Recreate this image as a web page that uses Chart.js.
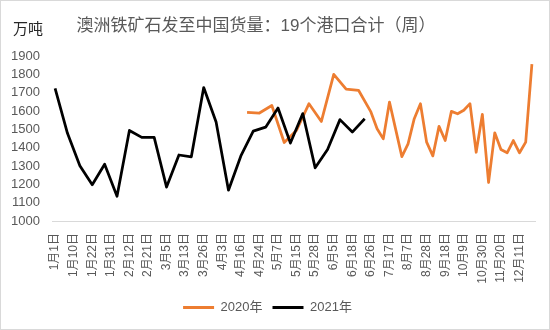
<!DOCTYPE html>
<html><head><meta charset="utf-8">
<script src="https://cdn.jsdelivr.net/npm/chart.js@4/dist/chart.umd.min.js"></script>
<style>
html,body{margin:0;padding:0;background:#fff;}
#wrap{position:relative;width:550px;height:330px;overflow:hidden;background:#fff;}
#frame{position:absolute;left:0;top:0;width:548px;height:328px;border:1px solid #d9d9d9;pointer-events:none;}
#unit{position:absolute;left:13px;top:19px;font-size:15px;line-height:18px;font-family:'Noto Sans CJK SC',sans-serif;color:#262626;}
#title{position:absolute;left:0;width:512px;top:16px;text-align:center;font-size:17px;line-height:20px;font-family:'Liberation Sans','Noto Sans CJK SC',sans-serif;color:#595959;}
canvas{position:absolute;left:0;top:0;}
</style></head>
<body>
<div id="wrap">
<canvas id="c" width="550" height="330"></canvas>
<div id="unit">万吨</div>
<div id="title">澳洲铁矿石发至中国货量：19个港口合计（周）</div>
<div id="frame"></div>
</div>
<script>
const categories = [
 '1月1日','1月3日','1月8日','1月10日','1月15日','1月17日','1月22日','1月24日','1月29日','1月31日',
 '2月5日','2月7日','2月12日','2月14日','2月19日','2月21日','2月26日','2月28日','3月5日','3月6日',
 '3月12日','3月13日','3月19日','3月20日','3月26日','3月27日','4月2日','4月3日','4月9日','4月10日',
 '4月16日','4月17日','4月23日','4月24日','4月30日','5月1日','5月7日','5月8日','5月14日','5月15日',
 '5月21日','5月22日','5月28日','5月29日','6月4日','6月5日','6月11日','6月12日','6月18日','6月19日',
 '6月25日','6月26日','7月3日','7月10日','7月17日','7月24日','7月31日','8月7日','8月14日','8月21日',
 '8月28日','9月4日','9月11日','9月18日','9月25日','10月2日','10月9日','10月16日','10月23日','10月30日',
 '11月6日','11月13日','11月20日','11月27日','12月4日','12月11日','12月18日','12月25日'
];
const N = null;
const values2020 = [
 N,N,N,N,N,N,N,N,N,N,
 N,N,N,N,N,N,N,N,N,N,
 N,N,N,N,N,N,N,N,N,N,
 N,1593,N,1589,N,1630,N,1428,N,1495,
 N,1640,N,1543,N,1800,N,1719,N,1713,
 N,1595,1503,1448,1649,1500,1351,1421,1558,1640,
 1430,1355,1516,1439,1598,1585,1604,1640,1375,1582,
 1210,1481,1390,1372,1439,1372,1430,1856
];
const values2021 = [
 1723,N,1478,N,1302,N,1198,N,1310,N,
 1135,N,1494,N,1456,N,1456,N,1185,N,
 1360,N,1350,N,1728,N,1540,N,1168,N,
 1355,N,1490,N,1512,N,1616,N,1425,N,
 1586,N,1290,N,1390,N,1553,N,1485,N,
 1558
];
const seriesNames = ['2020年','2021年'];
const yTicks = {min:1000, max:1900, step:100};
const labelEvery = 3;

const fam = "'Liberation Sans','Noto Sans CJK SC',sans-serif";
new Chart(document.getElementById('c'), {
  type:'line',
  data:{
    labels:categories,
    datasets:[
      {label:seriesNames[0], data:values2020, borderColor:'#ED7D31', backgroundColor:'#ED7D31', borderWidth:2.75, pointRadius:0, tension:0, spanGaps:true, order:1, borderJoinStyle:'round'},
      {label:seriesNames[1], data:values2021, borderColor:'#000000', backgroundColor:'#000000', borderWidth:2.75, pointRadius:0, tension:0, spanGaps:true, order:0, borderJoinStyle:'round'}
    ]
  },
  options:{
    responsive:false, animation:false, devicePixelRatio:1,
    layout:{padding:{top:56,left:0,right:15,bottom:6}},
    plugins:{
      title:{display:false},
      tooltip:{enabled:false},
      legend:{
        position:'bottom',
        labels:{
          font:{size:13,family:fam}, color:'#595959', boxWidth:31, boxHeight:3, padding:10,
          generateLabels:(chart)=>chart.data.datasets.map((ds,i)=>({text:ds.label, fillStyle:ds.borderColor, strokeStyle:ds.borderColor, lineWidth:0, hidden:false, datasetIndex:i, fontColor:'#595959'}))
        }
      }
    },
    scales:{
      x:{
        offset:true,
        grid:{display:false, drawTicks:false},
        border:{display:true, color:'#d9d9d9', width:1},
        ticks:{autoSkip:false, minRotation:90, maxRotation:90, padding:12, font:{size:12,family:fam}, color:'#595959',
          callback:(v,i)=> i%labelEvery===0 ? categories[i] : null},
        afterFit:(s)=>{ s.height = 70; }
      },
      y:{
        min:yTicks.min, max:yTicks.max,
        grid:{display:false, drawTicks:false},
        border:{display:false},
        ticks:{stepSize:yTicks.step, autoSkip:false, padding:12, font:{size:13,family:fam}, color:'#595959',
          callback:(v)=>String(v)},
        afterFit:(s)=>{ s.width = 52; }
      }
    }
  }
});
</script>
</body></html>
